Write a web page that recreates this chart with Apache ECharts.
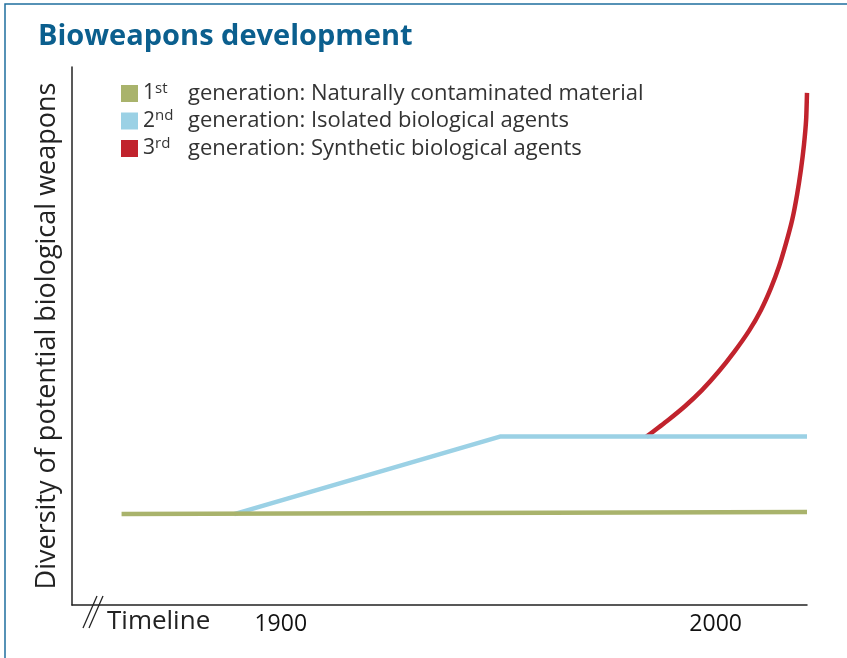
<!DOCTYPE html>
<html>
<head>
<meta charset="utf-8">
<script src="https://cdn.jsdelivr.net/npm/echarts@6/dist/echarts.min.js"></script>
<style>
html,body{margin:0;padding:0;background:#fff;}
#chart{width:847px;height:658px;}
</style>
</head>
<body>
<div id="chart"></div>
<script>
// Data (x = year, y = relative diversity 0-100)
const seriesNames = ['1st generation: Naturally contaminated material', '2nd generation: Isolated biological agents', '3rd generation: Synthetic biological agents'];
const gen1 = [[1863.4, 16.9], [2021, 17.3]];
const gen2 = [[1889.3, 16.9], [1950.4, 31.3], [2021, 31.3]];
const gen3 = [[1984.1, 31.3], [1989.1, 34.4], [1993.0, 37.0], [1996.8, 39.9], [2000.6, 43.3], [2004.4, 47.2], [2007.7, 51.0], [2010.4, 54.8], [2012.7, 58.9], [2014.6, 63.0], [2016.2, 67.3], [2017.6, 71.6], [2018.7, 76.2], [2019.6, 80.9], [2020.3, 85.5], [2020.8, 90.2], [2021, 95.2]];
const tickYears = [1900, 2000];

const chart = echarts.init(document.getElementById('chart'));
const font = '"Open Sans", "Noto Sans", sans-serif';
const ord = {'1st generation: Naturally contaminated material': ['1', 'st', 'generation: Naturally contaminated material'],
             '2nd generation: Isolated biological agents': ['2', 'nd', 'generation: Isolated biological agents'],
             '3rd generation: Synthetic biological agents': ['3', 'rd', 'generation: Synthetic biological agents']};

chart.setOption({
  animation: false,
  backgroundColor: '#fff',
  title: {
    text: 'Bioweapons development',
    left: 33, top: 17,
    textStyle: {color: '#0b5f8e', fontSize: 29, fontWeight: 'bold', fontFamily: font}
  },
  legend: {
    orient: 'vertical',
    left: 116, top: 76,
    itemWidth: 17, itemHeight: 17, itemGap: 4,
    icon: 'rect',
    data: seriesNames,
    formatter: function (name) {
      const p = ord[name];
      return '{n|' + p[0] + '}{s|' + p[1] + '}{t|' + p[2] + '}';
    },
    textStyle: {
      fontFamily: font, color: '#333', fontSize: 22,
      rich: {
        n: {fontFamily: font, fontSize: 21, color: '#333', width: 12, lineHeight: 25},
        s: {fontFamily: font, fontSize: 15, color: '#333', width: 33, verticalAlign: 'top', padding: [0, 0, 8, 0], lineHeight: 25},
        t: {fontFamily: font, fontSize: 22, color: '#333', lineHeight: 25}
      }
    }
  },
  grid: {left: 72, right: 40, top: 67, bottom: 53, containLabel: false},
  xAxis: {
    type: 'value', min: 1852, max: 2021,
    splitLine: {show: false},
    axisTick: {show: false},
    axisLine: {lineStyle: {color: '#222', width: 1.5}},
    axisLabel: {customValues: tickYears, color: '#111', fontSize: 23, fontFamily: font, margin: 8,
      formatter: v => String(v)}
  },
  yAxis: {
    type: 'value', min: 0, max: 100,
    name: 'Diversity of potential biological weapons',
    nameLocation: 'middle', nameGap: 11,
    nameTextStyle: {color: '#222', fontSize: 27, fontFamily: font},
    splitLine: {show: false},
    axisTick: {show: false},
    axisLabel: {show: false},
    axisLine: {show: true, lineStyle: {color: '#222', width: 1.5}}
  },
  series: [
    {name: seriesNames[0], type: 'line', data: gen1, showSymbol: false, color: '#a9b36c', lineStyle: {width: 4.5, color: '#a9b36c'}, z: 3},
    {name: seriesNames[1], type: 'line', data: gen2, showSymbol: false, color: '#9bd1e5', lineStyle: {width: 4.5, color: '#9bd1e5'}, z: 2},
    {name: seriesNames[2], type: 'line', data: gen3, showSymbol: false, smooth: 0.2, color: '#c1232d', lineStyle: {width: 4.5, color: '#c1232d'}, z: 1}
  ],
  graphic: [
    {type: 'rect', shape: {x: 5, y: 4, width: 900, height: 800}, style: {fill: 'none', stroke: '#1f6f9e', lineWidth: 1.5}, silent: true},
    {type: 'line', shape: {x1: 83, y1: 628, x2: 97, y2: 596}, style: {stroke: '#222', lineWidth: 1.3}},
    {type: 'line', shape: {x1: 89, y1: 628, x2: 103, y2: 596}, style: {stroke: '#222', lineWidth: 1.3}},
    {type: 'text', left: 107, top: 609, style: {text: 'Timeline', fontSize: 26, fontFamily: font, fill: '#222'}}
  ]
});
</script>
</body>
</html>
